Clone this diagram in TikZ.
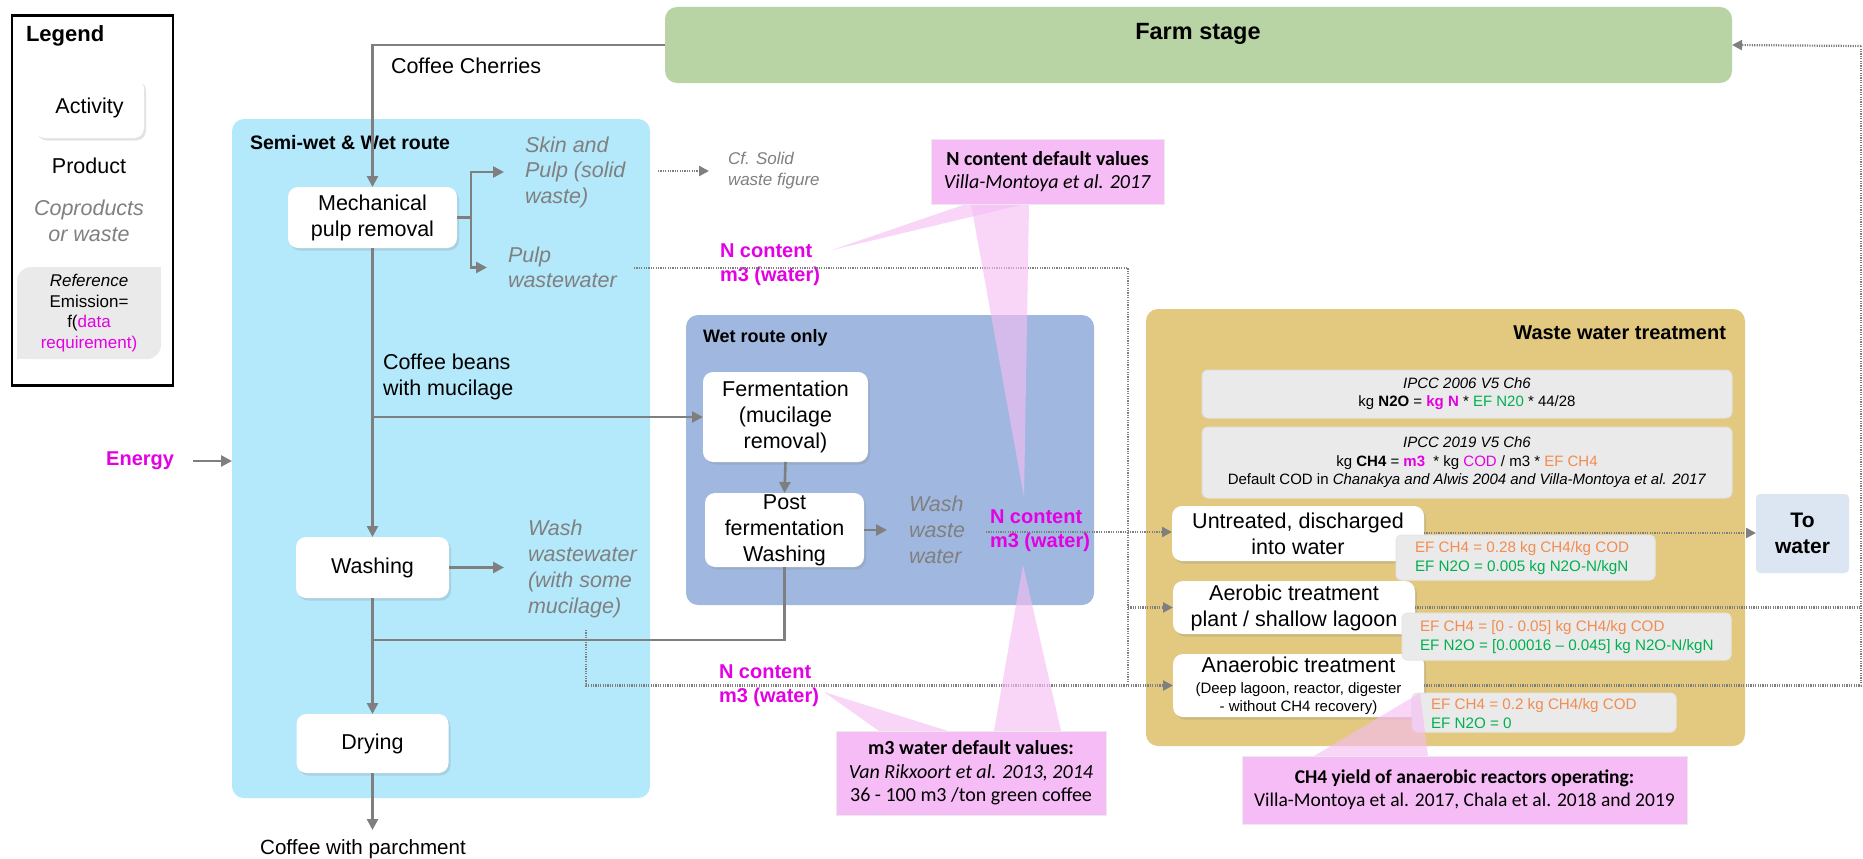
\documentclass[tikz,border=0pt]{standalone}
\usepackage{fontspec}
\setmainfont{Liberation Sans}
\newfontfamily\calib{Carlito}
\usetikzlibrary{arrows.meta,shadows}

\definecolor{lineg}{RGB}{127,127,127}
\definecolor{magen}{RGB}{228,0,228}
\definecolor{orng}{RGB}{242,140,80}
\definecolor{grn}{RGB}{0,176,80}
\definecolor{farmg}{RGB}{184,212,164}
\definecolor{semib}{RGB}{180,232,251}
\definecolor{wetb}{RGB}{160,184,223}
\definecolor{wwt}{RGB}{226,201,127}
\definecolor{formg}{RGB}{234,234,234}
\definecolor{pinkc}{RGB}{246,188,245}
\definecolor{towat}{RGB}{220,230,242}
\definecolor{coprod}{RGB}{128,128,128}

\newcommand{\fs}[1]{\fontsize{#1}{#1}\selectfont}

\begin{document}
\begin{tikzpicture}[x=1pt,y=-1pt,
  font=\fs{21.5},
  every node/.style={inner sep=0pt, outer sep=0pt},
  act/.style={fill=white, rounded corners=10pt, align=center, font=\fontsize{21.5}{26}\selectfont,
    drop shadow={opacity=0.22, shadow xshift=2pt, shadow yshift=-2.5pt}},
  container/.style={rounded corners=12pt},
  coprodtxt/.style={text=coprod, align=left, font=\itshape\fontsize{21.5}{25.5}\selectfont},
  ntxt/.style={text=magen, align=left, font=\bfseries\fontsize{20}{24}\selectfont},
  formula/.style={fill=formg, draw=black!12, line width=1pt, rounded corners=6pt},
  efbox/.style={fill=formg, draw=black!10, line width=1pt, rounded corners=5pt},
  eftxt/.style={anchor=west, align=left, font=\fontsize{15.2}{19}\selectfont},
  callout/.style={fill=pinkc, draw=black!8, line width=0.8pt, align=center, font=\calib\fontsize{20}{23}\selectfont},
  wedge/.style={fill=pinkc, opacity=0.62},
  arr/.style={draw=lineg, line width=2.6pt, -{Triangle[length=11pt,width=11pt]}},
  ln/.style={draw=lineg, line width=2.6pt},
  dotln/.style={draw=lineg, line width=2.2pt, dash pattern=on 1.2pt off 1.2pt},
  dotarr/.style={dotln, -{Triangle[length=10pt,width=10pt]}},
]
\useasboundingbox[fill=white] (0,0) rectangle (1863,859);

% ---------- legend ----------
\node[draw=black, line width=2.2pt, minimum width=161pt, minimum height=370pt] (legend) at (92.5,200.5) {};
\node[anchor=west, font=\bfseries\fs{22}] (legtitle) at (26,36) {Legend};
\node[act, minimum width=109pt, minimum height=60pt] (legact) at (89.5,108) {Activity};
\node (legprod) at (89,166) {Product};
\node[coprodtxt, align=center, font=\itshape\fontsize{21.5}{26}\selectfont] (legco) at (89,221) {Coproducts\\or waste};
\node[fill=formg, rounded corners=14pt, minimum width=144pt, minimum height=92pt] (legref) at (89,313) {};
\fill[formg] (145,267) rectangle (161,283);
\fill[formg] (17,343) rectangle (33,359);
\node[align=center, font=\fontsize{17}{20.7}\selectfont] (legreftxt) at (89,313)
  {\textit{Reference}\\Emission=\\f(\textcolor{magen}{data}\\\textcolor{magen}{requirement)}};

% ---------- containers ----------
\node[container, fill=farmg, minimum width=1067pt, minimum height=76pt] (farm) at (1198.5,45) {};
\node[font=\bfseries\fs{23.5}] (farmtxt) at (1198,34) {Farm stage};

\node[container, fill=semib, minimum width=418pt, minimum height=679pt] (semi) at (441,458.5) {};
\node[anchor=west, font=\bfseries\fs{19.5}] (semitxt) at (250,143) {Semi-wet \& Wet route};

\node[container, fill=wetb, minimum width=408pt, minimum height=290pt] (wet) at (890,460) {};
\node[anchor=west, font=\bfseries\fs{18}] (wettxt) at (703,338) {Wet route only};

\node[container, fill=wwt, minimum width=599pt, minimum height=437pt] (wwt) at (1445.5,527.5) {};
\node[anchor=east, font=\bfseries\fs{20}] (wwttxt) at (1726,333) {Waste water treatment};

% ---------- activities ----------
\node[act, minimum width=169pt, minimum height=61pt] (mech) at (372.5,217.5) {Mechanical\\pulp removal};
\node[act, minimum width=153pt, minimum height=61pt] (washing) at (372.5,567.5) {Washing};
\node[act, minimum width=152pt, minimum height=59pt] (drying) at (372.5,743.5) {Drying};
\node[act, minimum width=165pt, minimum height=90pt] (ferm) at (785.5,417) {Fermentation\\(mucilage\\removal)};
\node[act, minimum width=159pt, minimum height=74pt] (post) at (784.5,530) {Post\\fermentation\\Washing};

% ---------- products and coproducts ----------
\node[anchor=west] (cherries) at (391,66) {Coffee Cherries};
\node[anchor=west, align=left, font=\fontsize{21.5}{26}\selectfont] (beans) at (383,377) {Coffee beans\\with mucilage};
\node[font=\fs{20.6}] (parch) at (363,849) {Coffee with parchment};
\coordinate (parchin) at (372.5,830);
\node[coprodtxt, anchor=west] (skin) at (525,172) {Skin and\\Pulp (solid\\waste)};
\node[coprodtxt, anchor=west] (pww) at (508,267.5) {Pulp\\wastewater};
\node[anchor=west, text=coprod, align=left, font=\itshape\fontsize{17}{21}\selectfont] (cf) at (728,171) {Cf. Solid\\waste figure};
\node[coprodtxt, anchor=west, font=\itshape\fontsize{21.5}{26}\selectfont] (wwm) at (528,569) {Wash\\wastewater\\(with some\\mucilage)};
\node[coprodtxt, anchor=west, font=\itshape\fontsize{21.5}{26}\selectfont] (www) at (909,530) {Wash\\waste\\water};
\node[anchor=east, text=magen, font=\bfseries\fs{20}] (energy) at (174,461) {Energy};

% ---------- data requirements ----------
\node[ntxt, anchor=west] (n1) at (720,265) {N content\\m3 (water)};
\node[ntxt, anchor=west] (n2) at (990,531) {N content\\m3 (water)};
\node[ntxt, anchor=west] (n3) at (719,685.5) {N content\\m3 (water)};

% ---------- treatment ----------
\node[formula, minimum width=530pt, minimum height=48pt, align=center, font=\fontsize{15}{18}\selectfont] (ipcc6) at (1467,394)
  {\textit{IPCC 2006 V5 Ch6}\\kg \textbf{N2O} = \textcolor{magen}{\textbf{kg N}} * \textcolor{grn}{EF N20} * 44/28};
\node[formula, minimum width=530pt, minimum height=71pt, align=center, font=\fontsize{15}{18.5}\selectfont] (ipcc9) at (1467,462.5)
  {\textit{IPCC 2019 V5 Ch6}\\kg \textbf{CH4} = \textcolor{magen}{\textbf{m3}} \ * kg \textcolor{magen}{COD} / m3 * \textcolor{orng}{EF CH4}\\Default COD in \textit{Chanakya and Alwis 2004 and Villa-Montoya et al. 2017}};

\node[act, minimum width=252pt, minimum height=55pt] (untr) at (1298,533.5) {Untreated, discharged\\into water};
\node[act, minimum width=242pt, minimum height=53pt] (aero) at (1294,607.5) {Aerobic treatment\\plant / shallow lagoon};
\node[act, minimum width=251pt, minimum height=63pt, font=\fontsize{15}{18}\selectfont] (anae) at (1298.5,685.5)
  {{\fs{21.5}Anaerobic treatment}\\[3pt](Deep lagoon, reactor, digester\\- without CH4 recovery)};

\node[efbox, minimum width=259pt, minimum height=45pt] (ef1) at (1525.5,557.5) {};
\node[eftxt] (ef1t) at (1415,558.5)
  {\textcolor{orng}{EF CH4 = 0.28 kg CH4/kg COD}\\\textcolor{grn}{EF N2O = 0.005 kg N2O-N/kgN}};
\node[efbox, minimum width=329pt, minimum height=47pt] (ef2) at (1566.5,636.5) {};
\node[eftxt] (ef2t) at (1420,637.5)
  {\textcolor{orng}{EF CH4 = [0 - 0.05] kg CH4/kg COD}\\\textcolor{grn}{EF N2O = [0.00016 -- 0.045] kg N2O-N/kgN}};
\node[efbox, minimum width=264pt, minimum height=39pt] (ef3) at (1544,712.5) {};
\node[eftxt] (ef3t) at (1431,713.5)
  {\textcolor{orng}{EF CH4 = 0.2 kg CH4/kg COD}\\\textcolor{grn}{EF N2O = 0}};

\node[fill=towat, rounded corners=4pt, minimum width=93pt, minimum height=79pt, align=center,
  font=\bfseries\fontsize{21}{26}\selectfont] (towater) at (1802.5,533.5) {To\\water};

% ---------- solid connectors ----------
\draw[arr] (farm.west) -| (mech.north);
\coordinate (mbr) at (471,217.5);
\draw[ln] (mech.east) -- (mbr);
\draw[arr] (mbr) |- ([xshift=-21pt]skin.west);
\draw[arr] (mbr) |- ([xshift=-21pt]pww.west);
\draw[arr] (mech.south) -- (washing.north);
\coordinate (jbeans) at (372.5,417);
\draw[arr] (jbeans) -- (ferm.west);
\draw[arr] (ferm.south) -- (post.north);
\draw[arr] (post.east) -- ([xshift=-22pt]www.west);
\coordinate (jpost) at (372.5,640);
\draw[ln] (post.south) |- (jpost);
\draw[arr] (washing.south) -- (drying.north);
\draw[arr] (washing.east) -- ([xshift=-24pt]wwm.west |- washing.east);
\draw[arr] (drying.south) -- (parchin);
\draw[arr] ([xshift=19pt]energy.east) -- (energy.east -| semi.west);

% ---------- wastewater flows ----------
\coordinate (vtop) at (1128,268);
\coordinate (vbot) at (1128,685.5);
\coordinate (rtop) at (1861,46);
\coordinate (rbot) at (1861,685.5);
\draw[dotarr] (658,171) -- ([xshift=-19pt]cf.west);
\draw[dotln] (634,268) -- (vtop) -- (vbot);
\draw[dotarr] (986,532) -- (untr.west |- 0,532);
\draw[dotarr] (1128,607.5) -- (aero.west);
\draw[dotarr] (586,630) |- (anae.west);
\draw[dotarr] (untr.east |- 0,533) -- (towater.west |- 0,533);
\draw[dotln] (aero.east) -- (1861,607.5);
\draw[dotln] (anae.east) -- (rbot) -- (rtop);
\draw[dotarr] (rtop) -- (farm.east);

% ---------- callouts ----------
\fill[wedge] (966,204) -- (1025,204) -- (832,250) -- cycle;
\fill[wedge] (971,204) -- (1029,204) -- (1024,497) -- cycle;
\fill[wedge] (879,731) -- (948,731) -- (824,692) -- cycle;
\fill[wedge] (994,731) -- (1061,731) -- (1023,565) -- cycle;
\fill[wedge] (1314,756) -- (1428,756) -- (1420,693) -- cycle;

\node[callout, minimum width=233pt, minimum height=65pt] (ncd) at (1047.5,171.5)
  {\textbf{N content default values}\\\textit{Villa-Montoya et al. 2017}};
\node[callout, minimum width=270pt, minimum height=84pt, font=\calib\fontsize{20}{23.5}\selectfont] (m3d) at (971,773)
  {\textbf{m3 water default values:}\\\textit{Van Rikxoort et al. 2013, 2014}\\36 - 100 m3 /ton green coffee};
\node[callout, minimum width=445pt, minimum height=68pt, font=\calib\fontsize{19.5}{23}\selectfont] (ch4y) at (1464.5,790)
  {\textbf{CH4 yield of anaerobic reactors operating:}\\Villa-Montoya et al. 2017, Chala et al. 2018 and 2019};
\end{tikzpicture}
\end{document}
